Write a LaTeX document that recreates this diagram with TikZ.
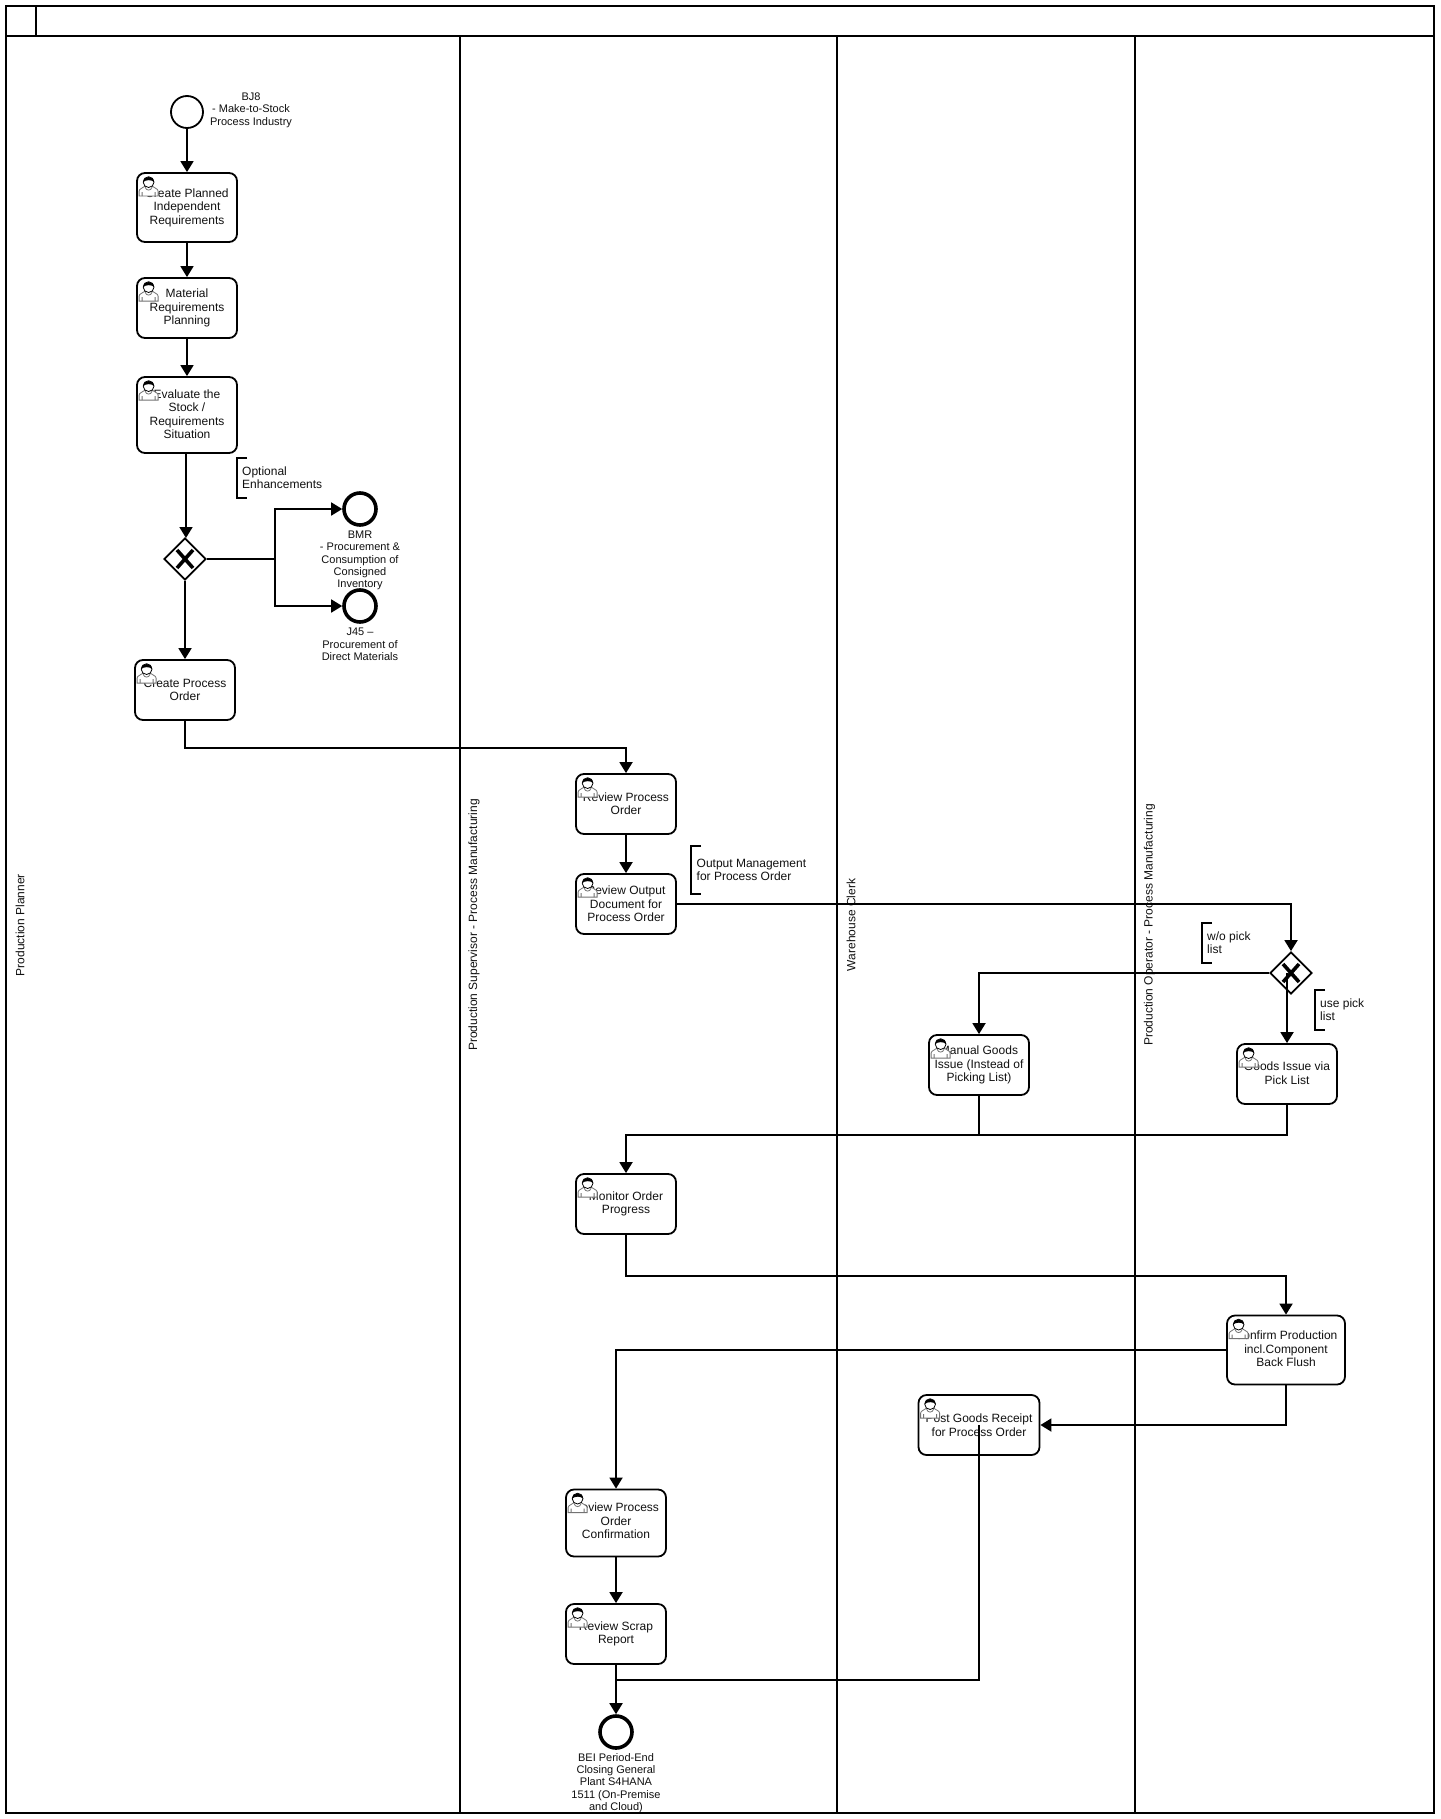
\documentclass[tikz,border=0pt]{standalone}
\usepackage{fontspec}
\setmainfont{Liberation Sans}
\usetikzlibrary{arrows.meta,shapes.geometric,positioning,calc}
\definecolor{ink}{HTML}{111111}
\newcommand{\liftby}[1]{\rule[-#1]{0pt}{0pt}}
\tikzset{
  task/.style={draw=black,fill=white,line width=1.8pt,rounded corners=8pt,inner sep=0pt,
    align=center,text=ink,font=\fontsize{12}{13.4}\selectfont},
  gateway/.style={diamond,aspect=1,draw=black,fill=white,line width=1.8pt,inner sep=0pt,
    minimum width=42pt,minimum height=42pt,
    path picture={\draw[line width=3.6pt,black]
      ([shift={(-8,-9)}]path picture bounding box.center) -- ([shift={(8,9)}]path picture bounding box.center)
      ([shift={(-8,9)}]path picture bounding box.center) -- ([shift={(8,-9)}]path picture bounding box.center);}},
  startev/.style={circle,draw=black,fill=white,line width=1.8pt,inner sep=0pt,minimum size=32pt},
  endev/.style={circle,draw=black,fill=white,line width=3.6pt,inner sep=0pt,minimum size=32pt},
  evlabel/.style={align=center,text=ink,inner sep=0pt,font=\fontsize{11}{12.4}\selectfont},
  annot/.style={align=left,anchor=west,text=ink,inner sep=0pt,font=\fontsize{12}{13}\selectfont},
  bracket/.style={draw=black,line width=1.8pt},
  lanetext/.style={rotate=90,text=ink,inner sep=0pt,font=\fontsize{12}{14}\selectfont},
  poolline/.style={draw=black,line width=2pt},
  flow/.style={draw=black,line width=1.8pt,-{Triangle[length=11pt,width=13pt]}},
  plainflow/.style={draw=black,line width=1.8pt},
  person/.pic={
    \path[fill=white,draw=black!55,line width=.8pt] (0,20) -- (0,15)
      .. controls (0,12.5) and (4,12) .. (6,10) -- (13,10)
      .. controls (15,12) and (19,12.5) .. (19,15) -- (19,20) -- cycle;
    \draw[black!55,line width=.8pt] (3,20) -- (3,16) (16,20) -- (16,16)
      (6,11) .. controls (7,15) and (12,15) .. (13,11);
    \draw[fill=white,draw=black,line width=.8pt] (9.5,6) circle (5.4pt);
    \fill[black] (4.1,6) .. controls (4.1,-.8) and (14.9,-.8) .. (14.9,6)
      .. controls (13,3.4) and (6.5,3.4) .. (4.1,6) -- cycle;
  }
}
\begin{document}
\begin{tikzpicture}[x=1pt,y=-1pt]
\path[use as bounding box,fill=white] (0,0) rectangle (1440,1819);
% pool and lanes
\draw[poolline] (6,6) rectangle (1434,1813);
\draw[poolline] (6,36) -- (1434,36);
\draw[poolline] (36,6) -- (36,36);
\draw[poolline] (460,36) -- (460,1813);
\draw[poolline] (836.5,36) -- (836.5,1813);
\draw[poolline] (1134.5,36) -- (1134.5,1813);
\node[lanetext] (laneA) at (20,925) {Production Planner};
\node[lanetext] (laneB) at (474,925) {Production Supervisor - Process Manufacturing};
\node[lanetext] (laneC) at (851,925) {Warehouse Clerk};
\node[lanetext] (laneD) at (1149.5,925) {Production Operator - Process Manufacturing};
% events
\node[startev] (start) at (187,112) {};
\node[endev] (endA) at (360,509) {};
\node[endev] (endB) at (360,606) {};
\node[endev] (endC) at (616,1732) {};
\node[evlabel] (lblStart) at (251,110) {BJ8\\- Make-to-Stock\hspace*{7pt}\\Process Industry};
\node[evlabel] (lblA) at (360,560.5) {BMR\\- Procurement \&\\Consumption of\\Consigned\\Inventory};
\node[evlabel] (lblB) at (360,644.5) {J45 –\\Procurement of\\Direct Materials};
\node[evlabel] (lblC) at (616,1783) {BEI Period-End\\Closing General\\Plant S4HANA\\1511 (On-Premise\\and Cloud)};
% tasks
\node[task,minimum width=100pt,minimum height=69pt] (t1) at (187,207.5) {Create Planned\\Independent\\Requirements};
\node[task,minimum width=100pt,minimum height=60pt] (t2) at (187,308) {Material\\Requirements\\Planning};
\node[task,minimum width=100pt,minimum height=76pt] (t3) at (187,415) {Evaluate the\\Stock /\\Requirements\\Situation\liftby{1.5pt}};
\node[task,minimum width=100pt,minimum height=60pt] (t4) at (185,690) {Create Process\\Order};
\node[task,minimum width=100pt,minimum height=60pt] (t5) at (626,804) {Review Process\\Order};
\node[task,minimum width=100pt,minimum height=60pt] (t6) at (626,904) {Review Output\\Document for\\Process Order};
\node[task,minimum width=100pt,minimum height=60pt] (t7) at (979,1065) {Manual Goods\\Issue (Instead of\\Picking List)};
\node[task,minimum width=100pt,minimum height=60pt] (t8) at (1287,1074) {Goods Issue via\\Pick List\liftby{2pt}};
\node[task,minimum width=100pt,minimum height=60pt] (t9) at (626,1204) {Monitor Order\\Progress};
\node[task,minimum width=118pt,minimum height=69pt] (t10) at (1286,1350) {Confirm Production\\incl.Component\\Back Flush\liftby{2pt}};
\node[task,minimum width=121pt,minimum height=60pt] (t11) at (979,1425) {Post Goods Receipt\\for Process Order};
\node[task,minimum width=100pt,minimum height=67pt] (t12) at (616,1523) {Review Process\\Order\\Confirmation\liftby{4pt}};
\node[task,minimum width=100pt,minimum height=60pt] (t13) at (616,1634) {Review Scrap\\Report};
% gateways
\node[gateway] (g1) at (185,559) {};
\node[gateway] (g2) at (1291,973) {};
% annotations
\draw[bracket] (247,458) -- (237,458) -- (237,498) -- (247,498);
\node[annot] (nA) at (242,477.5) {Optional\\Enhancements};
\draw[bracket] (701,846) -- (691,846) -- (691,894) -- (701,894);
\node[annot] (nB) at (696.5,870) {Output Management\\for Process Order};
\draw[bracket] (1212,923) -- (1202,923) -- (1202,963) -- (1212,963);
\node[annot] (nC) at (1207,942.5) {w/o pick\\list};
\draw[bracket] (1325,990) -- (1315,990) -- (1315,1030) -- (1325,1030);
\node[annot] (nD) at (1320,1009.5) {use pick\\list};
% flows
\coordinate (fork1) at (275,559);
\coordinate (join1) at ($(t7.south)+(0,39)$);
\draw[flow] (start) -- (t1);
\draw[flow] (t1) -- (t2);
\draw[flow] (t2) -- (t3);
\draw[flow] (t3.south -| 186,0) -- (186,538);
\draw[flow] (g1) -- (t4);
\draw[plainflow] (g1.east) -- (fork1);
\draw[flow] (fork1) |- (endA);
\draw[flow] (fork1) |- (endB);
\draw[flow] (t4.south) -- ++(0,27) -| (t5.north);
\draw[flow] (t5) -- (t6);
\draw[flow] (t6.east) -| (g2.north);
\draw[flow] (g2.west) -| (t7.north);
\draw[flow] (t8.north |- g2.center) -- (t8.north);
\draw[flow] (t8.south) -- ++(0,30) -| (t9.north);
\draw[plainflow] (t7.south) -- (join1);
\draw[flow] (t9.south) -- ++(0,41) -| (t10.north);
\draw[flow] (t10.west) -| (t12.north);
\draw[flow] (t10.south) |- (t11.east);
\draw[plainflow] (t11.center) |- (616,1680);
\draw[flow] (t12) -- (t13);
\draw[flow] (t13) -- (endC);
% user icons
\foreach \t in {t1,t2,t3,t4,t5,t6,t7,t8,t9,t10,t11,t12,t13}
  \pic at ([shift={(3,4)}]\t.north west) {person};
\end{tikzpicture}
\end{document}
